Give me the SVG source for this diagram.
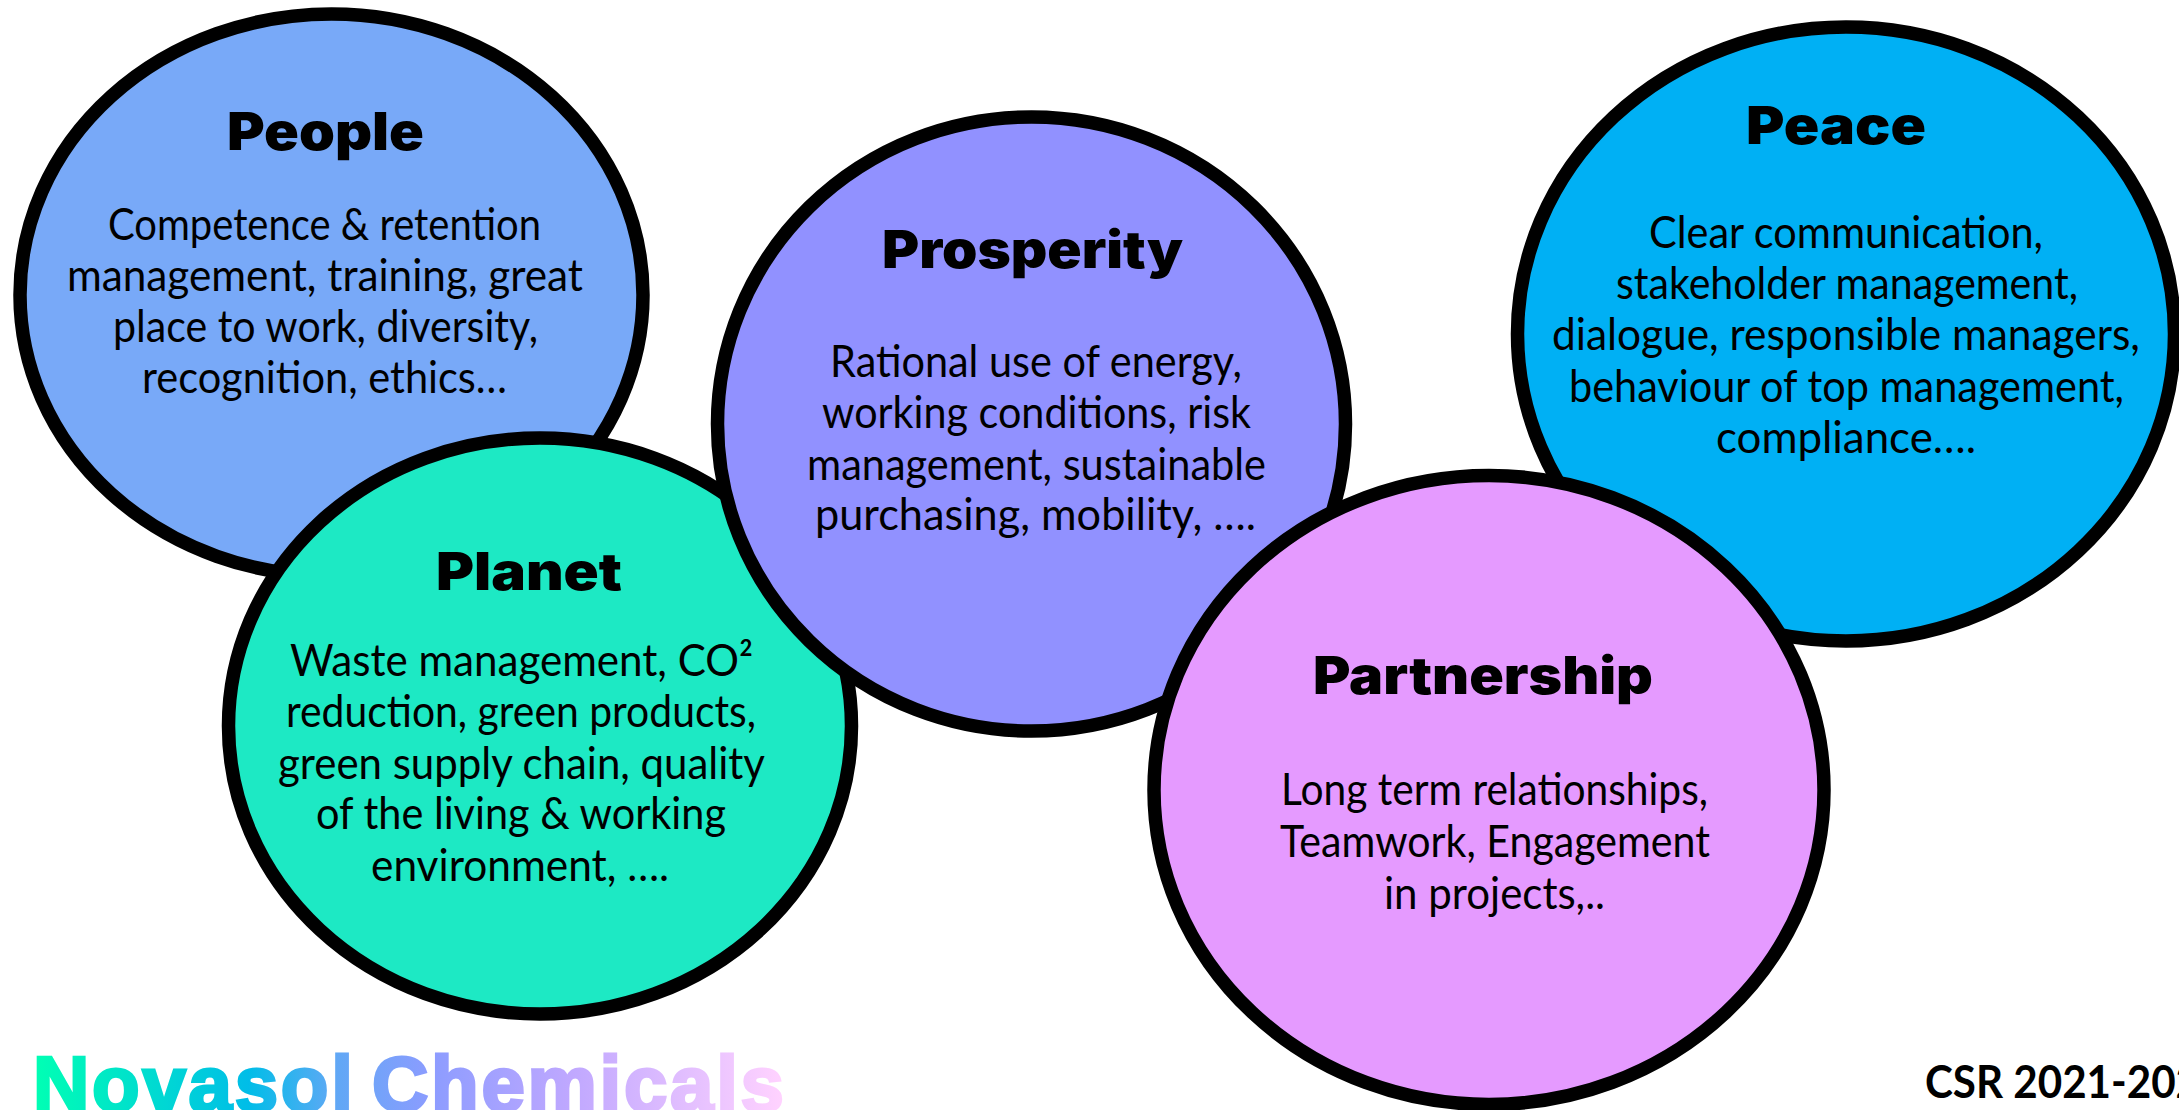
<svg xmlns="http://www.w3.org/2000/svg" width="2179" height="1110" viewBox="0 0 2179 1110">
<style>
.c{stroke:#000;stroke-width:13.5}
.h{font-family:"Inter","Liberation Sans",sans-serif;font-weight:900;font-size:52px;fill:#000}
.b{font-family:"Lato","Liberation Sans",sans-serif;font-size:44px;fill:#000}
.logo{font-family:"Liberation Sans",Arial,sans-serif;font-weight:700;font-size:78px;fill:url(#lg);stroke:url(#lg);stroke-width:3}
.csr{font-family:"Lato","Liberation Sans",sans-serif;font-weight:700;font-size:46px;fill:#000}
</style>
<defs>
<linearGradient id="lg" gradientUnits="userSpaceOnUse" x1="36" y1="0" x2="781" y2="0">
<stop offset="0" stop-color="#00ffb4"/>
<stop offset="0.285" stop-color="#00bde8"/>
<stop offset="0.40" stop-color="#60a8f5"/>
<stop offset="0.53" stop-color="#8c9cff"/>
<stop offset="0.72" stop-color="#c0a8ff"/>
<stop offset="1" stop-color="#ffd2ff"/>
</linearGradient>
</defs>
<rect width="2179" height="1110" fill="#fff"/>
<g id="people">
<ellipse class="c" cx="331.5" cy="295" rx="311.5" ry="281" fill="#78a9f8"/>
<text class="h" x="227" y="150" textLength="197" lengthAdjust="spacingAndGlyphs">People</text>
<text class="b" x="108" y="240" textLength="433" lengthAdjust="spacingAndGlyphs">Competence &amp; retention</text>
<text class="b" x="67" y="291" textLength="516" lengthAdjust="spacingAndGlyphs">management, training, great</text>
<text class="b" x="113" y="342" textLength="425" lengthAdjust="spacingAndGlyphs">place to work, diversity,</text>
<text class="b" x="142" y="393" textLength="365" lengthAdjust="spacingAndGlyphs">recognition, ethics…</text>
</g>
<g id="planet">
<ellipse class="c" cx="540" cy="726" rx="311.5" ry="288" fill="#1de9c4"/>
<text class="h" x="436" y="590" textLength="186" lengthAdjust="spacingAndGlyphs">Planet</text>
<text class="b" x="290" y="675.5" textLength="463" lengthAdjust="spacingAndGlyphs">Waste management, CO²</text>
<text class="b" x="286" y="726.5" textLength="470" lengthAdjust="spacingAndGlyphs">reduction, green products,</text>
<text class="b" x="278" y="778.5" textLength="487" lengthAdjust="spacingAndGlyphs">green supply chain, quality</text>
<text class="b" x="316" y="829" textLength="410" lengthAdjust="spacingAndGlyphs">of the living &amp; working</text>
<text class="b" x="371" y="880.6" textLength="298" lengthAdjust="spacingAndGlyphs">environment, ….</text>
</g>
<g id="prosperity">
<ellipse class="c" cx="1031.5" cy="424" rx="314" ry="307" fill="#9191ff"/>
<text class="h" x="882" y="268" textLength="301" lengthAdjust="spacingAndGlyphs">Prosperity</text>
<text class="b" x="830" y="376.5" textLength="412" lengthAdjust="spacingAndGlyphs">Rational use of energy,</text>
<text class="b" x="822" y="428.4" textLength="429" lengthAdjust="spacingAndGlyphs">working conditions, risk</text>
<text class="b" x="807" y="479.8" textLength="459" lengthAdjust="spacingAndGlyphs">management, sustainable</text>
<text class="b" x="815" y="530" textLength="441" lengthAdjust="spacingAndGlyphs">purchasing, mobility, ….</text>
</g>
<g id="peace">
<ellipse class="c" cx="1846" cy="334" rx="328.5" ry="307" fill="#00b0f4"/>
<text class="h" x="1746" y="143.5" textLength="180" lengthAdjust="spacingAndGlyphs">Peace</text>
<text class="b" x="1649" y="247.5" textLength="394" lengthAdjust="spacingAndGlyphs">Clear communication,</text>
<text class="b" x="1616" y="299" textLength="462" lengthAdjust="spacingAndGlyphs">stakeholder management,</text>
<text class="b" x="1552" y="350" textLength="588" lengthAdjust="spacingAndGlyphs">dialogue, responsible managers,</text>
<text class="b" x="1569" y="401.6" textLength="555" lengthAdjust="spacingAndGlyphs">behaviour of top management,</text>
<text class="b" x="1716" y="453" textLength="260" lengthAdjust="spacingAndGlyphs">compliance….</text>
</g>
<g id="partnership">
<ellipse class="c" cx="1489" cy="790" rx="335" ry="314.5" fill="#e59aff"/>
<text class="h" x="1313" y="694" textLength="340" lengthAdjust="spacingAndGlyphs">Partnership</text>
<text class="b" x="1281" y="805" textLength="427" lengthAdjust="spacingAndGlyphs">Long term relationships,</text>
<text class="b" x="1280" y="857" textLength="430" lengthAdjust="spacingAndGlyphs">Teamwork, Engagement</text>
<text class="b" x="1384" y="908.8" textLength="221" lengthAdjust="spacingAndGlyphs">in projects,..</text>
</g>
<g id="logo"><text class="logo" x="33" y="1111" textLength="751" lengthAdjust="spacing" word-spacing="-8">Novasol Chemicals</text></g>
<g id="footer"><text class="csr" x="1925" y="1098" textLength="275" lengthAdjust="spacingAndGlyphs">CSR 2021-202</text></g>
</svg>
